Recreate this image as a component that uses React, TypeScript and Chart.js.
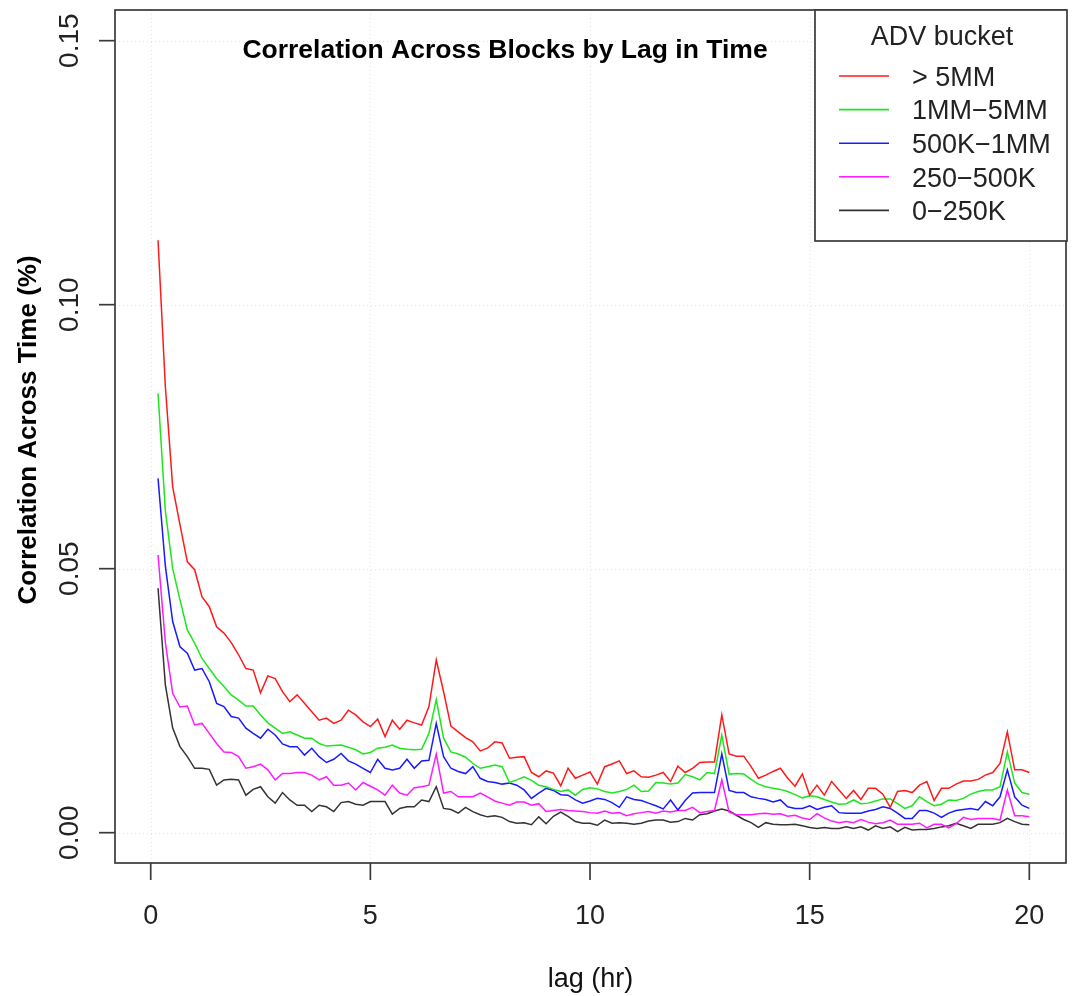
import React, { useEffect, useRef } from "react";
import { Chart, registerables } from "chart.js";

Chart.register(...registerables);

// ---------- data ----------
const LAG_STEP_HOURS = 1 / 6; // 10-minute lags
const redGt5MM = [
  0.1122, 0.0845, 0.0655, 0.0583, 0.0513, 0.0498, 0.0447, 0.0428, 0.039, 0.0378,
  0.036, 0.0337, 0.0311, 0.0308, 0.0265, 0.0297, 0.0292, 0.0267, 0.0248, 0.0261,
  0.0245, 0.0229, 0.0213, 0.0217, 0.0207, 0.0213, 0.0232, 0.0223, 0.021, 0.0201,
  0.0215, 0.0182, 0.0213, 0.0196, 0.0213, 0.0208, 0.0204, 0.0239, 0.0327, 0.0267,
  0.0202, 0.0191, 0.018, 0.0172, 0.0155, 0.016, 0.0172, 0.017, 0.0141, 0.0143,
  0.0144, 0.0114, 0.0106, 0.0117, 0.0113, 0.0089, 0.0122, 0.0103, 0.0109, 0.0115,
  0.0092, 0.0125, 0.013, 0.0136, 0.0112, 0.0117, 0.0106, 0.0105, 0.0109, 0.0114,
  0.0097, 0.0126, 0.0114, 0.0122, 0.0133, 0.0134, 0.0134, 0.0223, 0.0149, 0.0145,
  0.0145, 0.0125, 0.0103, 0.0109, 0.0116, 0.0122, 0.0103, 0.0088, 0.0111, 0.0071,
  0.009, 0.0071, 0.0097, 0.0081, 0.0065, 0.008, 0.0063, 0.0084, 0.0084, 0.0073,
  0.0048, 0.0078, 0.008, 0.0076, 0.009, 0.0097, 0.0061, 0.0084, 0.0084, 0.0092,
  0.0098, 0.0098, 0.0101, 0.0109, 0.0114, 0.0131, 0.0191, 0.0119, 0.0119, 0.0114,
];
const green1to5MM = [
  0.0832, 0.061, 0.05, 0.0441, 0.0384, 0.0359, 0.033, 0.0311, 0.0292, 0.0277,
  0.0261, 0.0251, 0.024, 0.024, 0.0223, 0.0208, 0.0198, 0.0188, 0.0191, 0.0185,
  0.0179, 0.0179, 0.0169, 0.0164, 0.0165, 0.0166, 0.0162, 0.0157, 0.0149, 0.0152,
  0.016, 0.0162, 0.0166, 0.016, 0.0158, 0.0157, 0.0158, 0.0188, 0.0252, 0.0179,
  0.0153, 0.0149, 0.0143, 0.0131, 0.0122, 0.0125, 0.0128, 0.0125, 0.0095, 0.01,
  0.0106, 0.0099, 0.009, 0.0087, 0.0082, 0.0078, 0.0081, 0.0071, 0.0082, 0.0085,
  0.0083, 0.0078, 0.0075, 0.0078, 0.0082, 0.009, 0.0078, 0.0079, 0.0095, 0.0094,
  0.0092, 0.0094, 0.011, 0.0106, 0.01, 0.0114, 0.0112, 0.0185, 0.0111, 0.0112,
  0.0111, 0.0101, 0.0092, 0.0087, 0.0084, 0.0082, 0.0078, 0.0072, 0.0066, 0.007,
  0.0068, 0.0063, 0.0058, 0.0054, 0.0055, 0.0062, 0.0055, 0.0056, 0.006, 0.0064,
  0.0064, 0.0055, 0.0046, 0.0051, 0.0068, 0.0059, 0.0051, 0.0054, 0.0062, 0.0061,
  0.0065, 0.0073, 0.0078, 0.0081, 0.0081, 0.0087, 0.0153, 0.0094, 0.0076, 0.0073,
];
const blue500Kto1MM = [
  0.0671, 0.0505, 0.04, 0.0352, 0.034, 0.0308, 0.0311, 0.0286, 0.0245, 0.0239,
  0.022, 0.0217, 0.0198, 0.0188, 0.0179, 0.0196, 0.0185, 0.0168, 0.0163, 0.0163,
  0.0147, 0.016, 0.0144, 0.0133, 0.0139, 0.015, 0.0136, 0.013, 0.0122, 0.0114,
  0.0139, 0.0122, 0.0119, 0.0122, 0.0139, 0.0122, 0.0136, 0.0137, 0.0207, 0.0144,
  0.0122, 0.0116, 0.0112, 0.0125, 0.0103, 0.0097, 0.0095, 0.0092, 0.0094, 0.009,
  0.0081, 0.0065, 0.0075, 0.0084, 0.008, 0.0072, 0.0071, 0.0062, 0.0056, 0.006,
  0.0065, 0.0063, 0.0057, 0.0048, 0.0068, 0.0063, 0.0061, 0.0056, 0.0051, 0.0045,
  0.0062, 0.0043, 0.0061, 0.0075, 0.0076, 0.0076, 0.0076, 0.0149, 0.008, 0.0076,
  0.0076, 0.0068, 0.0065, 0.0063, 0.0058, 0.0062, 0.0049, 0.0046, 0.0046, 0.0051,
  0.0044, 0.0048, 0.0051, 0.0038, 0.0037, 0.0037, 0.0037, 0.0041, 0.0044, 0.0049,
  0.0046, 0.0037, 0.0027, 0.0027, 0.0042, 0.0042, 0.0037, 0.0029, 0.0037, 0.0042,
  0.0044, 0.0046, 0.0043, 0.0059, 0.0051, 0.0068, 0.0119, 0.0068, 0.0052, 0.0046,
];
const magenta250to500K = [
  0.0526, 0.036, 0.0264, 0.0238, 0.024, 0.0204, 0.0207, 0.0188, 0.0169, 0.0153,
  0.0152, 0.0144, 0.0122, 0.0125, 0.013, 0.0119, 0.01, 0.0112, 0.0112, 0.0114,
  0.0114, 0.0109, 0.01, 0.0106, 0.009, 0.009, 0.0094, 0.0081, 0.0095, 0.0088,
  0.0081, 0.0071, 0.009, 0.0075, 0.0071, 0.0085, 0.0087, 0.009, 0.0149, 0.0075,
  0.0078, 0.0068, 0.0068, 0.0068, 0.0075, 0.0068, 0.006, 0.0056, 0.0052, 0.0058,
  0.0058, 0.0052, 0.0055, 0.004, 0.0042, 0.0044, 0.0042, 0.0041, 0.004, 0.0038,
  0.0037, 0.0041, 0.0037, 0.0038, 0.0032, 0.0036, 0.0038, 0.004, 0.0037, 0.0041,
  0.0039, 0.0042, 0.0042, 0.0048, 0.0038, 0.004, 0.0042, 0.01, 0.0039, 0.0034,
  0.0034, 0.0034, 0.0036, 0.0037, 0.0035, 0.0036, 0.0031, 0.0033, 0.0028, 0.0025,
  0.0036, 0.0028, 0.0022, 0.0019, 0.0021, 0.0019, 0.0025, 0.002, 0.0017, 0.0019,
  0.0024, 0.0016, 0.0016, 0.0016, 0.0018, 0.0009, 0.0016, 0.0016, 0.0009, 0.0017,
  0.0029, 0.0025, 0.0027, 0.0027, 0.0027, 0.0024, 0.0081, 0.0032, 0.0032, 0.003,
];
const black0to250K = [
  0.0463, 0.028, 0.0198, 0.0163, 0.0144, 0.0122, 0.0122, 0.012, 0.009, 0.01,
  0.0101, 0.01, 0.0071, 0.0082, 0.0087, 0.0068, 0.0056, 0.0076, 0.0062, 0.0052,
  0.0052, 0.004, 0.0052, 0.0049, 0.004, 0.0057, 0.0059, 0.0054, 0.0052, 0.0059,
  0.0059, 0.0059, 0.0035, 0.0046, 0.0049, 0.0049, 0.0062, 0.0059, 0.0087, 0.0046,
  0.0044, 0.0037, 0.0048, 0.004, 0.0034, 0.003, 0.0032, 0.0029, 0.0021, 0.0018,
  0.0019, 0.0015, 0.003, 0.0017, 0.0031, 0.0039, 0.0031, 0.0021, 0.0018, 0.0018,
  0.0014, 0.0024, 0.0018, 0.0019, 0.0018, 0.0016, 0.0018, 0.0022, 0.0024, 0.0024,
  0.002, 0.0021, 0.0027, 0.0024, 0.0034, 0.0036, 0.0041, 0.0045, 0.0041, 0.0033,
  0.0025, 0.0019, 0.001, 0.0019, 0.0016, 0.0015, 0.0015, 0.0016, 0.0013, 0.001,
  0.0008, 0.001, 0.0008, 0.0008, 0.0011, 0.0008, 0.0011, 0.0005, 0.0013, 0.0008,
  0.0011, 0.0002, 0.001, 0.0005, 0.0006, 0.0006, 0.0008, 0.0011, 0.0013, 0.0018,
  0.0013, 0.0008, 0.0016, 0.0016, 0.0016, 0.0019, 0.0027, 0.0021, 0.0016, 0.0015,
];
const seriesLabels = ["> 5MM", "1MM\u22125MM", "500K\u22121MM", "250\u2212500K", "0\u2212250K"];
const seriesColors = ["#ff1a1a", "#1ee61e", "#1a1aff", "#ff1aff", "#333333"];
const seriesValues = [redGt5MM, green1to5MM, blue500Kto1MM, magenta250to500K, black0to250K];
const xTicks = [0, 5, 10, 15, 20];
const xTickLabels = ["0", "5", "10", "15", "20"];
const yTicks = [0, 0.05, 0.1, 0.15];
const yTickLabels = ["0.00", "0.05", "0.10", "0.15"];
const chartTitle = "Correlation Across Blocks by Lag in Time";
const xTitle = "lag (hr)";
const yTitle = "Correlation Across Time (%)";
const legendTitle = "ADV bucket";

const FONT = '"Liberation Sans", Arial, Helvetica, sans-serif';
const AXIS_COLOR = "#3a3a3a";

const rStylePlugin = {
  id: "rStyle",
  beforeDatasetsDraw(chart: any) {
    const { ctx, chartArea: a, scales } = chart;
    const xs = scales.x;
    const ys = scales.y;
    ctx.save();
    ctx.strokeStyle = "rgba(205,205,205,0.55)";
    ctx.lineWidth = 1;
    ctx.setLineDash([1, 3]);
    xTicks.forEach((t) => {
      const px = Math.round(xs.getPixelForValue(t)) + 0.5;
      ctx.beginPath();
      ctx.moveTo(px, a.top);
      ctx.lineTo(px, a.bottom);
      ctx.stroke();
    });
    yTicks.forEach((t) => {
      const py = Math.round(ys.getPixelForValue(t)) + 0.5;
      ctx.beginPath();
      ctx.moveTo(a.left, py);
      ctx.lineTo(a.right, py);
      ctx.stroke();
    });
    ctx.restore();
  },
  afterDatasetsDraw(chart: any) {
    const { ctx, chartArea: a, scales } = chart;
    const xs = scales.x;
    const ys = scales.y;
    ctx.save();
    ctx.setLineDash([]);
    ctx.strokeStyle = AXIS_COLOR;
    ctx.lineWidth = 1.7;
    // plot frame
    ctx.strokeRect(a.left, a.top, a.right - a.left, a.bottom - a.top);
    // x ticks
    ctx.fillStyle = "#222";
    ctx.font = `27px ${FONT}`;
    ctx.textAlign = "center";
    ctx.textBaseline = "alphabetic";
    xTicks.forEach((t, k) => {
      const px = xs.getPixelForValue(t);
      ctx.beginPath();
      ctx.moveTo(px, a.bottom);
      ctx.lineTo(px, a.bottom + 17);
      ctx.stroke();
      ctx.fillText(xTickLabels[k], px, 923.5);
    });
    // y ticks (rotated labels, R style)
    ctx.font = `28px ${FONT}`;
    yTicks.forEach((t, k) => {
      const py = ys.getPixelForValue(t);
      ctx.beginPath();
      ctx.moveTo(a.left, py);
      ctx.lineTo(a.left - 16, py);
      ctx.stroke();
      ctx.save();
      ctx.translate(78, py);
      ctx.rotate(-Math.PI / 2);
      ctx.fillText(yTickLabels[k], 0, 0);
      ctx.restore();
    });
    // axis titles
    ctx.fillStyle = "#111";
    ctx.font = `27px ${FONT}`;
    ctx.fillText(xTitle, (a.left + a.right) / 2, 987);
    ctx.save();
    ctx.font = `bold 26px ${FONT}`;
    ctx.translate(36, 430);
    ctx.rotate(-Math.PI / 2);
    ctx.fillStyle = "#000";
    ctx.fillText(yTitle, 0, 0);
    ctx.restore();
    // main title
    ctx.fillStyle = "#000";
    ctx.font = `bold 26.5px ${FONT}`;
    ctx.fillText(chartTitle, 505, 58);
    // legend
    const lx = 815;
    const ly = a.top;
    const lw = a.right + 1 - lx;
    const lh = 231;
    ctx.fillStyle = "#fff";
    ctx.fillRect(lx, ly, lw, lh);
    ctx.strokeStyle = AXIS_COLOR;
    ctx.lineWidth = 1.7;
    ctx.strokeRect(lx, ly, lw, lh);
    ctx.fillStyle = "#222";
    ctx.font = `27px ${FONT}`;
    ctx.textAlign = "center";
    ctx.fillText(legendTitle, 942, 45);
    ctx.textAlign = "left";
    seriesLabels.forEach((lab, k) => {
      const ry = 76 + k * 33.6;
      ctx.strokeStyle = seriesColors[k];
      ctx.lineWidth = 1.6;
      ctx.beginPath();
      ctx.moveTo(839, ry);
      ctx.lineTo(889, ry);
      ctx.stroke();
      ctx.fillStyle = "#222";
      ctx.fillText(lab, 912, ry + 9.7);
    });
    ctx.restore();
  },
};

export default function App() {
  const canvasRef = useRef<HTMLCanvasElement | null>(null);

  useEffect(() => {
    const canvas = canvasRef.current;
    if (!canvas) return;
    const datasets = seriesValues.map((vals, k) => ({
      label: seriesLabels[k],
      data: vals.map((v, i) => ({ x: (i + 1) * LAG_STEP_HOURS, y: v })),
      borderColor: seriesColors[k],
      backgroundColor: seriesColors[k],
      borderWidth: 1.5,
      pointRadius: 0,
      tension: 0,
      fill: false,
    }));
    const chart = new Chart(canvas, {
      type: "line",
      data: { datasets },
      options: {
        animation: false,
        responsive: false,
        devicePixelRatio: 1,
        layout: { padding: { left: 115, top: 10, right: 10, bottom: 133 } },
        plugins: {
          legend: { display: false },
          title: { display: false },
          tooltip: { enabled: false },
        },
        scales: {
          x: { type: "linear", display: false, min: -0.813, max: 20.835 },
          y: { type: "linear", display: false, min: -0.00574, max: 0.15581 },
        },
        events: [],
      },
      plugins: [rStylePlugin],
    });
    return () => chart.destroy();
  }, []);

  return (
    <div
      style={{
        position: "absolute",
        left: 0,
        top: 0,
        width: 1076,
        height: 996,
        background: "#ffffff",
      }}
    >
      <canvas ref={canvasRef} width={1076} height={996} style={{ display: "block" }} />
    </div>
  );
}
